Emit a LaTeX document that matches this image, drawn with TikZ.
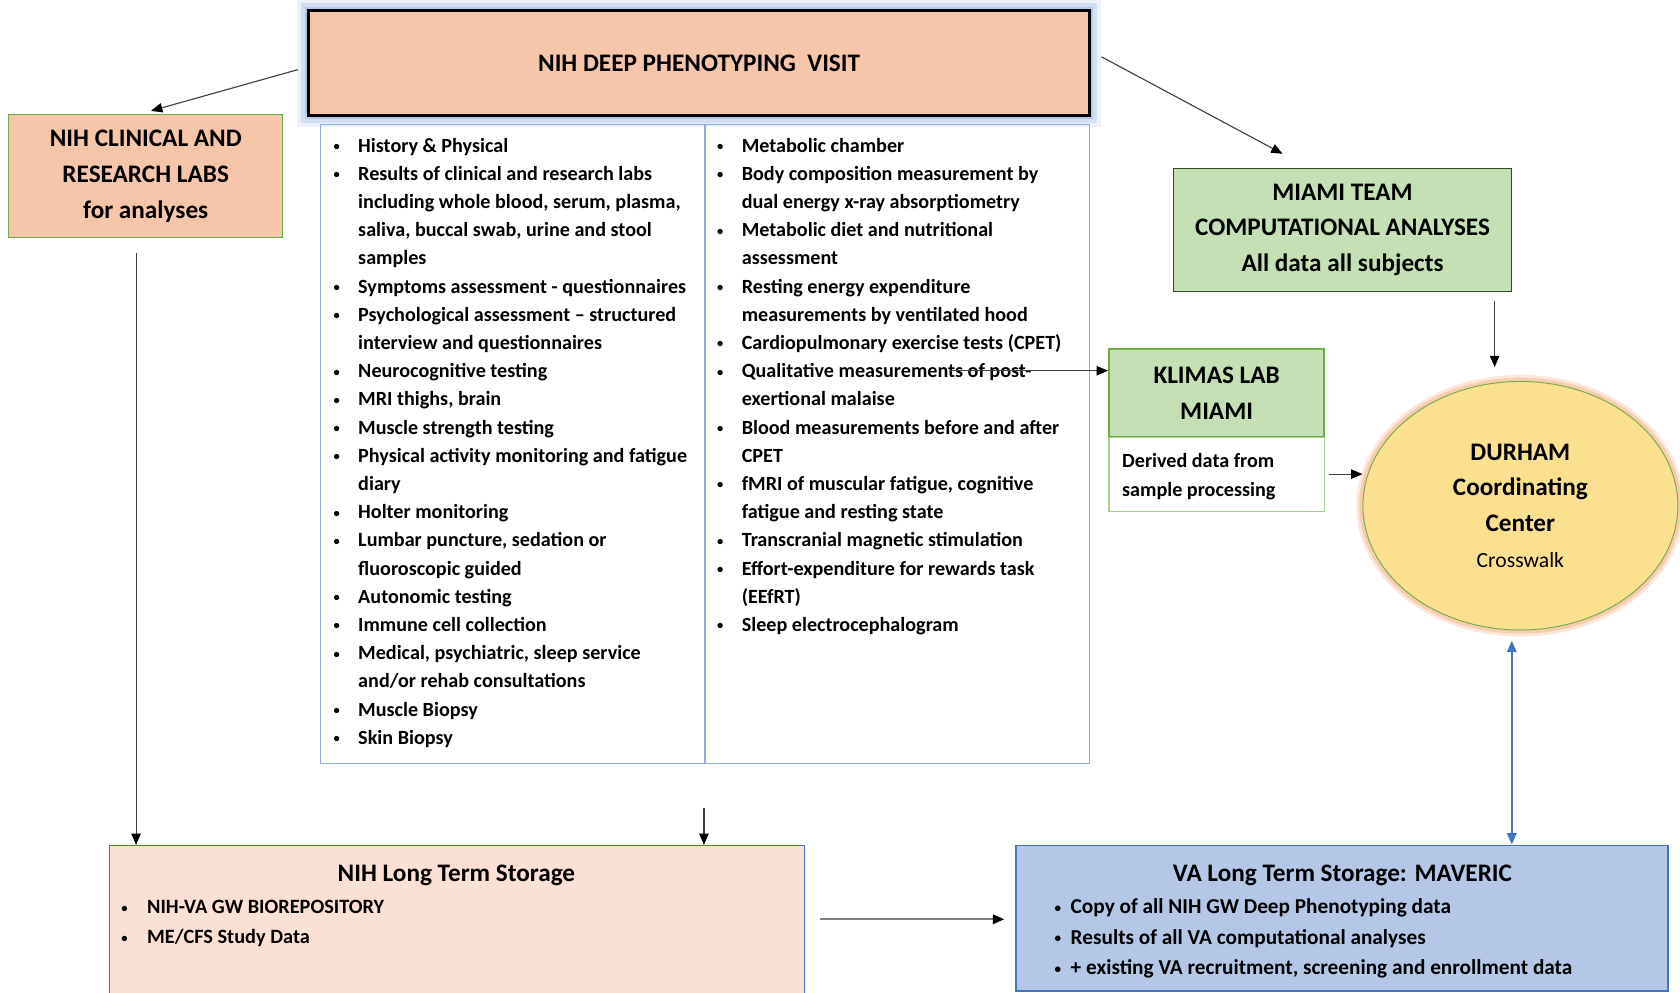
\documentclass[tikz,border=0pt]{standalone}
\usepackage{fontspec}
\setmainfont{Carlito}
\usetikzlibrary{arrows.meta,shapes.geometric}

\definecolor{peach}{HTML}{F5C6AA}
\definecolor{ltpeach}{HTML}{FBE0D5}
\definecolor{ltgreen}{HTML}{C5E0B4}
\definecolor{dkgreen}{HTML}{70AD47}
\definecolor{vablue}{HTML}{B4C7E7}
\definecolor{boxblue}{HTML}{4472C4}
\definecolor{listblue}{HTML}{8FAADC}
\definecolor{sun}{HTML}{FBE090}
\definecolor{salmon}{HTML}{F4B183}

\newcommand{\hfont}{\fontsize{13.4}{19}\selectfont\bfseries}
\newcommand{\lfont}{\fontsize{10.7}{14.98}\selectfont\bfseries}
\newcommand{\bl}{\raisebox{0.08em}{\scalebox{0.62}{\textbullet}}}

\begin{document}
\begin{tikzpicture}[x=0.02cm,y=-0.02cm,
  box/.style={draw, inner sep=0pt, align=center, font=\hfont, line width=0.6pt},
  lst/.style={inner sep=0pt, anchor=base west, font=\lfont},
  conn/.style={draw=black!75, line width=0.6pt, -{Triangle[length=6pt,width=5pt,color=black]}},
  ]
	\clip (0,0) rectangle (1568,926);
	\node[box, draw=listblue, minimum width=7.18cm, minimum height=11.94cm] (colL) at (478.5,414.5) {};
	\node[box, draw=listblue, minimum width=7.18cm, minimum height=11.94cm] (colR) at (837.5,414.5) {};
	\node[box, fill=peach, line width=1.7pt,
	  preaction={draw=listblue, line width=12pt, opacity=0.18},
	  preaction={draw=listblue, line width=8pt, opacity=0.25},
	  preaction={draw=listblue, line width=4pt, opacity=0.45},
	  minimum width=14.58cm, minimum height=1.96cm] (visit) at (652.5,59) {NIH DEEP PHENOTYPING \ VISIT};
	\node[box, fill=peach, draw=dkgreen, minimum width=5.12cm, minimum height=2.3cm] (labs) at (136,164.5) {NIH CLINICAL AND\\RESEARCH LABS\\for analyses};
	\node[box, fill=ltgreen, draw=black!55!dkgreen, minimum width=6.32cm, minimum height=2.3cm] (miami) at (1253,214.5) {MIAMI TEAM\\COMPUTATIONAL ANALYSES\\All data all subjects};
	\node[box, fill=ltgreen, draw=dkgreen, line width=1.1pt, minimum width=4.02cm, minimum height=1.64cm] (klimas) at (1135.5,367) {KLIMAS LAB\\MIAMI};
	\node[box, draw=dkgreen!60, minimum width=4.02cm, minimum height=1.38cm] (derived) at (1135.5,442.5) {};
	\node[box, ellipse, fill=sun, draw=dkgreen, line width=0.5pt,
	  preaction={draw=salmon, line width=7pt, opacity=0.3},
	  preaction={draw=salmon, line width=4pt, opacity=0.5},
	  minimum width=5.88cm, minimum height=4.64cm] (durham) at (1419,472) {DURHAM\\Coordinating\\Center\\{\fontsize{11.5}{14}\selectfont\mdseries Crosswalk}};
	\node[box, fill=ltpeach, draw=boxblue, minimum width=12.98cm, minimum height=3.02cm] (nihlts) at (426.5,864.5) {};
	\node[box, fill=vablue, draw=boxblue, line width=0.9pt, minimum width=12.18cm, minimum height=2.72cm] (valts) at (1252.5,857) {};

	\node[lst] (listL) at (311,142) {\begin{tabular}[t]{@{}p{0.46cm}@{}l@{}}
		\bl & History \& Physical\\
		\bl & Results of clinical and research labs\\
		 & including whole blood, serum, plasma,\\
		 & saliva, buccal swab, urine and stool\\
		 & samples\\
		\bl & Symptoms assessment - questionnaires\\
		\bl & Psychological assessment -- structured\\
		 & interview and questionnaires\\
		\bl & Neurocognitive testing\\
		\bl & MRI thighs, brain\\
		\bl & Muscle strength testing\\
		\bl & Physical activity monitoring and fatigue\\
		 & diary\\
		\bl & Holter monitoring\\
		\bl & Lumbar puncture, sedation or\\
		 & fluoroscopic guided\\
		\bl & Autonomic testing\\
		\bl & Immune cell collection\\
		\bl & Medical, psychiatric, sleep service\\
		 & and/or rehab consultations\\
		\bl & Muscle Biopsy\\
		\bl & Skin Biopsy
	\end{tabular}};
	\node[lst] (listR) at (669,142) {\begin{tabular}[t]{@{}p{0.46cm}@{}l@{}}
		\bl & Metabolic chamber\\
		\bl & Body composition measurement by\\
		 & dual energy x-ray absorptiometry\\
		\bl & Metabolic diet and nutritional\\
		 & assessment\\
		\bl & Resting energy expenditure\\
		 & measurements by ventilated hood\\
		\bl & Cardiopulmonary exercise tests (CPET)\\
		\bl & Qualitative measurements of post-\\
		 & exertional malaise\\
		\bl & Blood measurements before and after\\
		 & CPET\\
		\bl & fMRI of muscular fatigue, cognitive\\
		 & fatigue and resting state\\
		\bl & Transcranial magnetic stimulation\\
		\bl & Effort-expenditure for rewards task\\
		 & (EEfRT)\\
		\bl & Sleep electrocephalogram
	\end{tabular}};
	\node[lst, font=\fontsize{10.7}{15.4}\selectfont\bfseries] (derivedT) at (1047,436) {\begin{tabular}[t]{@{}l@{}}
		Derived data from\\ sample processing
	\end{tabular}};
	\node[font=\hfont, anchor=base, inner sep=0pt] (nihT) at (426,823) {NIH Long Term Storage};
	\node[lst, font=\fontsize{10.8}{15.9}\selectfont\bfseries] (nihB) at (113,853) {\begin{tabular}[t]{@{}p{0.48cm}@{}l@{}}
		\bl & NIH-VA GW BIOREPOSITORY\\
		\bl & ME/CFS Study Data
	\end{tabular}};
	\node[font=\hfont, anchor=base, inner sep=0pt] (vaT) at (1253,823) {VA Long Term Storage: MAVERIC};
	\node[lst, font=\fontsize{11.3}{16.2}\selectfont\bfseries] (vaB) at (984,853) {\begin{tabular}[t]{@{}p{0.3cm}@{}l@{}}
		\bl & Copy of all NIH GW Deep Phenotyping data\\
		\bl & Results of all VA computational analyses\\
		\bl & + existing VA recruitment, screening and enrollment data
	\end{tabular}};

	\coordinate (vL) at (278,65);
	\coordinate (vR) at (1028,53);
	\coordinate (lb) at (127,236);
	\coordinate (cb) at (657,754);
	\coordinate (mb) at (1395,281);
	\coordinate (qm) at (887,346);
	\coordinate (ga) at (765,858);
	\coordinate (da) at (1411,598);
	\draw[conn] (vL) -- ([shift={(5,-3)}]labs.north);
	\draw[conn] (vR) -- ([shift={(-56,-13)}]miami.north);
	\draw[conn] (lb) -- (lb |- nihlts.north);
	\draw[conn] (cb) -- (cb |- nihlts.north);
	\draw[conn, shorten >=0.26cm] (mb) -- (mb |- durham.north);
	\draw[conn] (qm) -- (qm -| klimas.west);
	\draw[conn, shorten <=0.08cm] (derived.east) -- (derived.east -| durham.west);
	\draw[conn, draw=black!50, line width=1.1pt, shorten >=0.2cm] (ga) -- (ga -| valts.west);
	\draw[draw=boxblue, line width=0.9pt, {Triangle[length=6pt,width=5pt]}-{Triangle[length=6pt,width=5pt]}] (da) -- (da |- valts.north);
\end{tikzpicture}
\end{document}
